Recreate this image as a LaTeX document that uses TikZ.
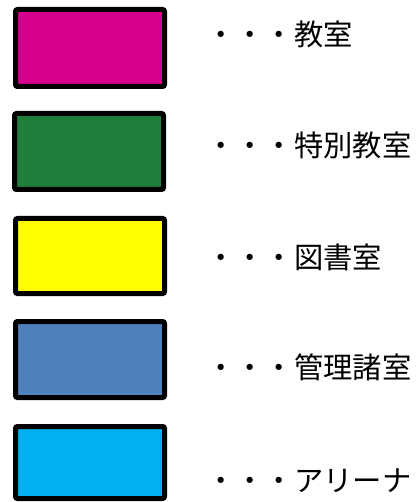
\documentclass[tikz,border=0pt]{standalone}
\usepackage{fontspec}
\newfontfamily\jpfont{Noto Sans CJK JP}
\definecolor{cmag}{HTML}{D6008F}
\definecolor{cgreen}{HTML}{1E7F3A}
\definecolor{cyel}{HTML}{FFFF00}
\definecolor{cblue}{HTML}{4F81BD}
\definecolor{ccyan}{HTML}{00B0F0}
\tikzset{
  swatch/.style={draw=black, line width=5pt, rounded corners=2pt, minimum width=149pt, minimum height=77pt, inner sep=0pt},
  lbl/.style={anchor=west, inner sep=0pt, font=\jpfont\fontsize{29.3}{29.3}\selectfont, text height=25pt, text depth=4pt}
}
\begin{document}
\begin{tikzpicture}[x=1pt,y=-1pt]
\useasboundingbox (0,0) rectangle (417,502);
\node[swatch, fill=cmag, minimum height=77pt] (r1) at (90,48) {};
\node[swatch, fill=cgreen, minimum height=76pt] (r2) at (89,151.5) {};
\node[swatch, fill=cyel, minimum height=75pt] (r3) at (90,256) {};
\node[swatch, fill=cblue, minimum height=76pt] (r4) at (90,359.5) {};
\node[swatch, fill=ccyan, minimum height=72pt] (r5) at (90,462.5) {};
\node[lbl] (t1) at (206,35) {・・・教室};
\node[lbl] (t2) at (206,146) {・・・特別教室};
\node[lbl] (t3) at (206,258) {・・・図書室};
\node[lbl] (t4) at (206,368) {・・・管理諸室};
\node[lbl] (t5) at (206,481) {・・・アリーナ};
\end{tikzpicture}
\end{document}
